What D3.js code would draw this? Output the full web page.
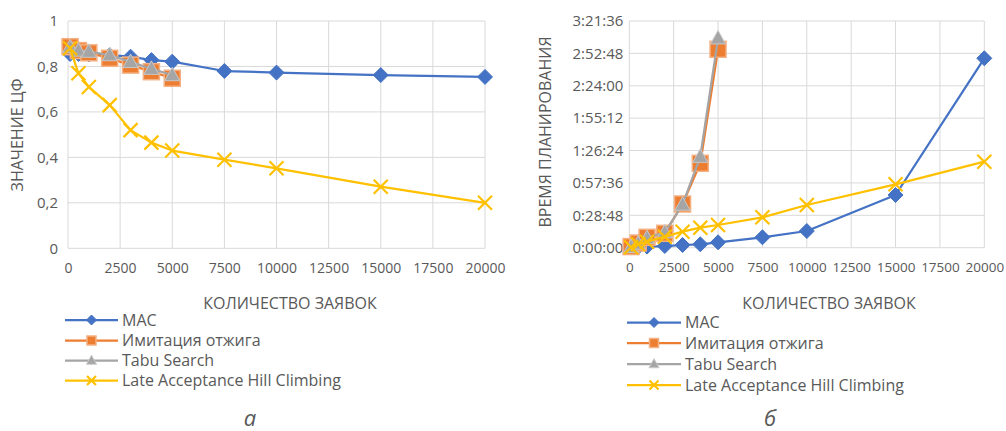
<!DOCTYPE html>
<html>
<head>
<meta charset="utf-8">
<script src="https://cdn.jsdelivr.net/npm/d3@7"></script>
<style>
  html, body { margin: 0; padding: 0; background: #fff; }
  svg { display: block; }
  text { font-family: "Open Sans", "Noto Sans", sans-serif; fill: #595959; }
</style>
</head>
<body>
<svg id="chart" width="1006" height="431"></svg>
<script>
// ---------- DATA ----------
const seriesNames = ["МАС", "Имитация отжига", "Tabu Search", "Late Acceptance Hill Climbing"];
const xTicks = [0, 2500, 5000, 7500, 10000, 12500, 15000, 17500, 20000];

// Panel a: objective function value
const xMAC = [100, 500, 1000, 2000, 3000, 4000, 5000, 7500, 10000, 15000, 20000];
const cfMAC = [0.855, 0.855, 0.853, 0.85, 0.843, 0.828, 0.821, 0.78, 0.773, 0.762, 0.754];
const xSA = [100, 500, 1000, 2000, 3000, 4000, 5000];
const cfSA = [0.887, 0.87, 0.86, 0.836, 0.806, 0.777, 0.748];
const xTabu = [100, 500, 1000, 2000, 3000, 4000, 5000];
const cfTabu = [0.885, 0.87, 0.865, 0.85, 0.82, 0.79, 0.762];
const xLAHC = [100, 500, 1000, 2000, 3000, 4000, 5000, 7500, 10000, 15000, 20000];
const cfLAHC = [0.88, 0.77, 0.71, 0.63, 0.52, 0.465, 0.43, 0.39, 0.352, 0.271, 0.2];
const cfTicks = [0, 0.2, 0.4, 0.6, 0.8, 1];

// Panel б: planning time, seconds
const tMAC = [20, 40, 60, 90, 144, 181, 288, 555, 891, 2812, 10106];
const tSA = [60, 250, 555, 768, 2332, 4504, 10587];
const tTabu = [40, 220, 520, 822, 2300, 4856, 11173];
const tLAHC = [20, 180, 320, 587, 854, 1067, 1211, 1622, 2278, 3383, 4589];
const timeTicks = [0, 1728, 3456, 5184, 6912, 8640, 10368, 12096];

const colors = ["#4472C4", "#ED7D31", "#A5A5A5", "#FFC000"];
const markerKinds = ["diamond", "square", "triangle", "x"];

// ---------- HELPERS ----------
const svg = d3.select("#chart");

function fmtTime(s) {
  const h = Math.floor(s / 3600);
  const m = Math.floor((s % 3600) / 60);
  const sec = Math.round(s % 60);
  return h + ":" + String(m).padStart(2, "0") + ":" + String(sec).padStart(2, "0");
}
function fmtCF(v) { return String(+v.toFixed(1)).replace(".", ","); }

function drawMarker(g, kind, color, cx, cy, size) {
  const r = size / 2;
  if (kind === "diamond") {
    g.append("path")
      .attr("d", `M${cx},${cy - r}L${cx + r},${cy}L${cx},${cy + r}L${cx - r},${cy}Z`)
      .attr("fill", color).attr("stroke", color).attr("stroke-width", 1);
  } else if (kind === "square") {
    g.append("rect").attr("x", cx - r).attr("y", cy - r).attr("width", size).attr("height", size)
      .attr("fill", color).attr("stroke", "#F4B183").attr("stroke-width", 1.5);
  } else if (kind === "triangle") {
    g.append("path")
      .attr("d", `M${cx},${cy - r * 1.05}L${cx + r},${cy + r * 0.75}L${cx - r},${cy + r * 0.75}Z`)
      .attr("fill", color).attr("stroke", "#C9C9C9").attr("stroke-width", 1);
  } else {
    g.append("path")
      .attr("d", `M${cx - r},${cy - r}L${cx + r},${cy + r}M${cx - r},${cy + r}L${cx + r},${cy - r}`)
      .attr("fill", "none").attr("stroke", color).attr("stroke-width", 2.2);
  }
}

function drawPanel(cfg) {
  const g = svg.append("g");
  const x = d3.scaleLinear().domain([0, 20000]).range([cfg.x0, cfg.x1]);
  const y = d3.scaleLinear().domain([cfg.yTicks[0], cfg.yTicks[cfg.yTicks.length - 1]]).range([cfg.y0, cfg.y1]);

  const grid = g.append("g");
  grid.selectAll("line.v").data(xTicks).join("line")
    .attr("x1", d => x(d)).attr("x2", d => x(d)).attr("y1", cfg.y0).attr("y2", cfg.y1)
    .attr("stroke", "#D9D9D9").attr("stroke-width", 1);
  grid.selectAll("line.h").data(cfg.yTicks).join("line")
    .attr("y1", d => y(d)).attr("y2", d => y(d)).attr("x1", cfg.x0).attr("x2", cfg.x1)
    .attr("stroke", "#D9D9D9").attr("stroke-width", 1);

  const xAxis = g.append("g").attr("transform", `translate(0,${cfg.y0})`)
    .call(d3.axisBottom(x).tickValues(xTicks).tickSize(0).tickPadding(cfg.xPad).tickFormat(d => String(d)));
  xAxis.select(".domain").remove();
  xAxis.selectAll("text").attr("font-size", cfg.xFont).attr("fill", "#595959")
    .attr("font-family", "'Open Sans', sans-serif");

  const yAxis = g.append("g").attr("transform", `translate(${cfg.x0},0)`)
    .call(d3.axisLeft(y).tickValues(cfg.yTicks).tickSize(0).tickPadding(cfg.yPad).tickFormat(cfg.yFmt));
  yAxis.select(".domain").remove();
  yAxis.selectAll("text").attr("font-size", 15).attr("fill", "#595959")
    .attr("font-family", "'Open Sans', sans-serif");

  g.append("text").attr("x", cfg.xTitleX).attr("y", 309).attr("text-anchor", "middle")
    .attr("font-size", 16).text("КОЛИЧЕСТВО ЗАЯВОК");
  g.append("text").attr("transform", `translate(${cfg.yTitleX},${cfg.yTitleY}) rotate(-90)`)
    .attr("text-anchor", "middle").attr("font-size", 16).text(cfg.yTitle);

  const line = d3.line().x(d => x(d[0])).y(d => y(d[1]));
  cfg.series.forEach((s, i) => {
    const pts = s.xs.map((xv, j) => [xv, s.ys[j]]);
    const sg = g.append("g");
    sg.append("path").datum(pts).attr("d", line).attr("fill", "none")
      .attr("stroke", colors[i]).attr("stroke-width", 2.25).attr("stroke-linejoin", "round");
    pts.forEach(p => drawMarker(sg, markerKinds[i], colors[i], x(p[0]), y(p[1]), cfg.markerSize[i]));
  });

  const lg = g.append("g");
  seriesNames.forEach((name, i) => {
    const ly = cfg.legY[i];
    lg.append("line").attr("x1", cfg.legX0).attr("x2", cfg.legX1).attr("y1", ly).attr("y2", ly)
      .attr("stroke", colors[i]).attr("stroke-width", 2.25);
    drawMarker(lg, markerKinds[i], colors[i], (cfg.legX0 + cfg.legX1) / 2, ly, [10, 9, 10, 9][i]);
    lg.append("text").attr("x", cfg.legX1 + 4).attr("y", ly).attr("dy", "0.36em")
      .attr("font-family", "Inter, 'Open Sans', sans-serif")
      .attr("font-size", 16).text(name);
  });

  g.append("text").attr("x", cfg.capX).attr("y", 426).attr("text-anchor", "middle")
    .attr("font-family", "'Liberation Serif', 'DejaVu Serif', serif").attr("font-style", "italic")
    .attr("font-size", 22).attr("fill", "#000").text(cfg.caption);
}

drawPanel({
  x0: 68, x1: 485, y0: 248.3, y1: 21, yTicks: cfTicks, yFmt: fmtCF, xPad: 15, yPad: 10, xFont: 14,
  xTitleX: 290, yTitleX: 23, yTitleY: 135, yTitle: "ЗНАЧЕНИЕ ЦФ",
  series: [
    { xs: xMAC, ys: cfMAC }, { xs: xSA, ys: cfSA }, { xs: xTabu, ys: cfTabu }, { xs: xLAHC, ys: cfLAHC }
  ],
  markerSize: [15, 16, 15, 14],
  legX0: 65, legX1: 118, legY: [320, 340.5, 360.5, 380.5], caption: "а", capX: 250
});

drawPanel({
  x0: 629.3, x1: 984.3, y0: 247.7, y1: 21, yTicks: timeTicks, yFmt: fmtTime, xPad: 15, yPad: 6, xFont: 13.5,
  xTitleX: 829, yTitleX: 551, yTitleY: 132, yTitle: "ВРЕМЯ ПЛАНИРОВАНИЯ",
  series: [
    { xs: xMAC, ys: tMAC }, { xs: xSA, ys: tSA }, { xs: xTabu, ys: tTabu }, { xs: xLAHC, ys: tLAHC }
  ],
  markerSize: [15, 16, 15, 14],
  legX0: 627, legX1: 681, legY: [322.5, 343, 364, 385], caption: "б", capX: 770
});
</script>
</body>
</html>
